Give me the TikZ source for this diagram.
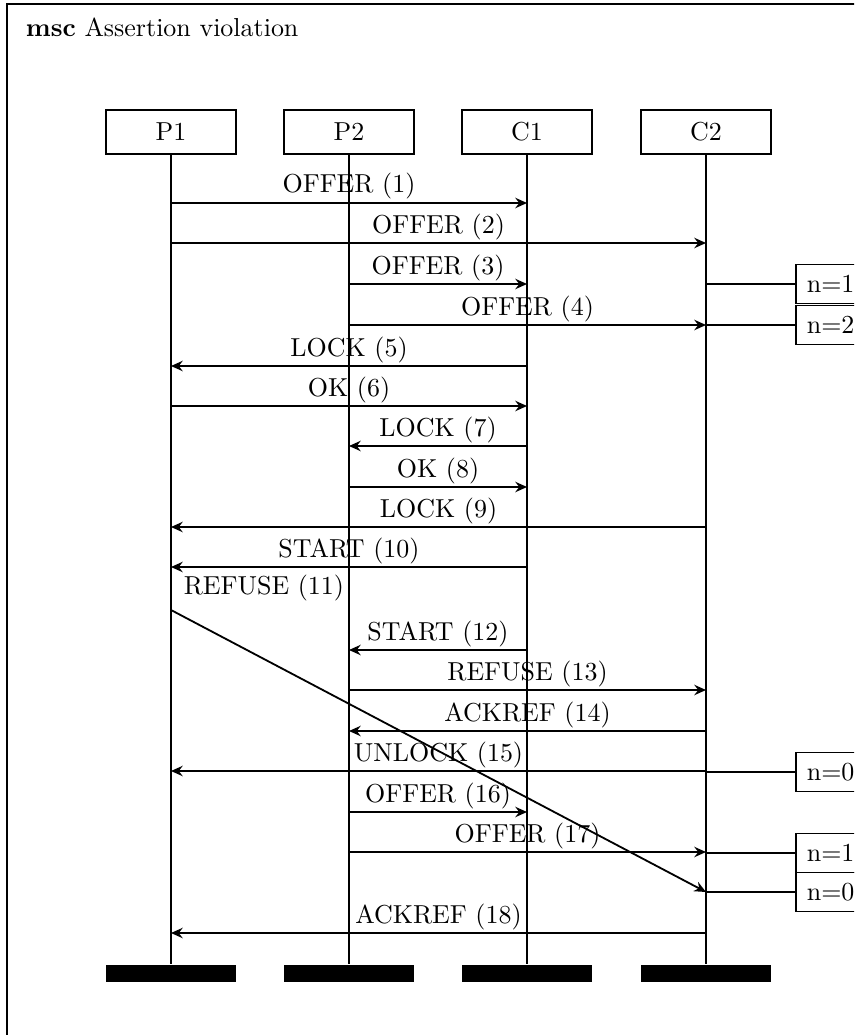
\documentclass[tikz,border=0pt]{standalone}
\usetikzlibrary{arrows.meta}

\begin{document}
\begin{tikzpicture}[
  x=0.385pt, y=-0.385pt,
  line width=0.7pt,
  inst/.style={draw, minimum width=50pt, minimum height=17pt, inner sep=0pt},
  stopbar/.style={fill=black, minimum width=50pt, minimum height=6.5pt, inner sep=0pt},
  cond/.style={draw, fill=white, anchor=west, minimum height=15pt, inner xsep=4.2pt},
  msg/.style={->},
  lbl/.style={midway, above, inner sep=1pt},
  >={Stealth[length=4.5pt, width=4pt, inset=1.5pt]},
]
\path[use as bounding box, clip] (0,0) rectangle (854,1035);
\draw (7,4) rectangle (900,1080);
\node[anchor=base west, inner sep=0pt] (title) at (25,37) {\textbf{msc} Assertion violation};

% instances
\foreach \n/\x in {P1/171,P2/349,C1/527,C2/706} {
  \node[inst] (\n) at (\x,132) {\n};
  \node[stopbar] (\n end) at (\x,973.5) {};
  \draw (\n) -- (\n end);
}

% messages
\foreach \a/\b/\y/\t in {P1/C1/203/OFFER (1), P1/C2/243/OFFER (2), P2/C1/284/OFFER (3),
    P2/C2/325/OFFER (4), C1/P1/366/LOCK (5), P1/C1/406/OK (6), C1/P2/446/LOCK (7),
    P2/C1/487/OK (8), C2/P1/527/LOCK (9), C1/P1/567/START (10), C1/P2/650/START (12),
    P2/C2/690/REFUSE (13), C2/P2/731/ACKREF (14), C2/P1/771/UNLOCK (15),
    P2/C1/812/OFFER (16), P2/C2/852/OFFER (17), C2/P1/933/ACKREF (18)} {
  \draw[msg] (\a |- 0,\y) -- node[lbl] {\t} (\b |- 0,\y);
}
\draw[msg] (P1 |- 0,610) -- node[pos=0, anchor=south west, inner sep=0pt, xshift=4.6pt, yshift=3pt] {REFUSE (11)} (C2 |- 0,892);

% counter values
\foreach \m/\y/\v in {n3/284/1, n4/325/2, n15/772/0, n17/853/1, n18/892/0} {
  \node[cond] (\m) at (795,\y) {n=\v};
  \draw (C2 |- \m) -- (\m);
}
\end{tikzpicture}
\end{document}
